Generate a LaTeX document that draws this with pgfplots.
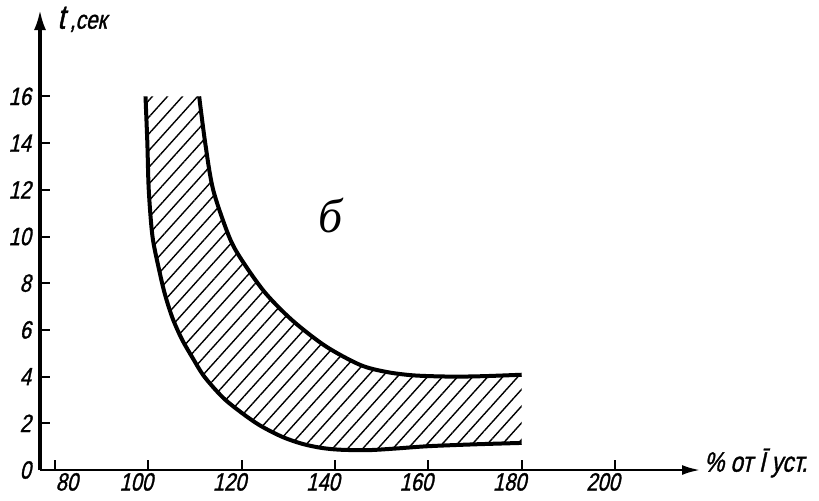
\documentclass[border=0pt]{standalone}
\usepackage{fontspec}
\setmainfont{Liberation Sans}
\newfontfamily\hand[FakeStretch=0.8,FakeSlant=0.22,FakeBold=1.2]{Liberation Sans}
\newfontfamily\handserif{Liberation Serif}
\usepackage{pgfplots}
\pgfplotsset{compat=1.18}
\usepgfplotslibrary{fillbetween}
\usetikzlibrary{arrows.meta,patterns.meta}

\begin{document}
\begin{tikzpicture}
\begin{axis}[
  scale only axis, width=330pt, height=230pt,
  xmin=76.8, xmax=218.2, ymin=0, ymax=19.7,
  clip=false,
  axis x line=bottom, axis y line=left,
  x axis line style={line width=1.2pt, -{Latex[length=9pt,width=5pt]}},
  y axis line style={line width=1.6pt, -{Latex[length=10pt,width=6pt]}},
  xtick={80,100,120,140,160,180,200}, ytick={0,2,4,6,8,10,12,14,16},
  xticklabels={\hspace*{24pt}80,100,120,140,160,180,200},
  tick align=inside, major tick length=5pt,
  tick style={line width=1pt, black},
  /pgf/number format/assume math mode=true,
  ticklabel style={font=\hand\fontsize{12.5}{14}\selectfont},
  xticklabel style={xshift=-6pt, yshift=2pt},
  yticklabel style={xshift=-1pt},
]
\addplot[name path=L, line width=2pt, smooth, tension=0.5] coordinates {
(99.4,16) (99.8,14) (100.1,12) (100.9,10) (102.4,8.5) (103.6,7.5) (105.2,6.5)
(107.2,5.6) (109.5,4.8) (112,4.0) (116,3.1) (120,2.45) (124,1.9) (128.7,1.42)
(133,1.12) (137,0.95) (141,0.87) (147,0.85) (153,0.92) (160,1.02) (170,1.1) (180,1.16)
};
\addplot[name path=U, line width=2pt, smooth, tension=0.5] coordinates {
(110.9,16) (112.2,14) (113.9,12) (117.3,10) (120,9) (125,7.6) (130.9,6.4)
(138,5.3) (145.4,4.5) (151,4.2) (157,4.05) (165,4.0) (172,4.02) (180,4.08)
};
\addplot[draw=none, pattern={Lines[angle=48,distance=5.6pt,line width=0.7pt]}] fill between[of=L and U];
\node[anchor=base west, font=\hand\fontsize{17}{18}\selectfont, inner sep=0pt] at (axis cs:80.4,18.9) {t\hspace{2.5pt}{\fontsize{13}{15}\selectfont,сек}};
\node[anchor=west, font=\hand\fontsize{14}{15}\selectfont, inner sep=1pt] at (axis cs:218.6,0.3) {\% от Ī уст.};
\node[font=\handserif\itshape\fontsize{24}{26}\selectfont] at (axis cs:139,10.9) {б};
\end{axis}
\pgfresetboundingbox
\path (-20pt,-15pt) rectangle (389.5pt,235pt);
\end{tikzpicture}
\end{document}
